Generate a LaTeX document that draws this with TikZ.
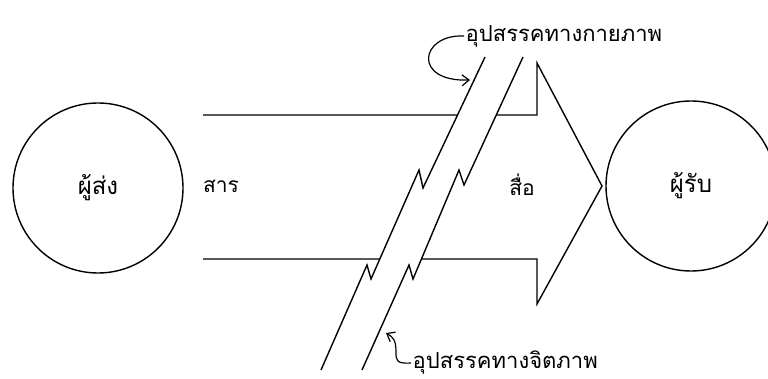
\documentclass[tikz,border=0pt]{standalone}
\usepackage{fontspec}
\newfontfamily\thaifont[Script=Thai]{Loma}
\usetikzlibrary{arrows.meta}
\usetikzlibrary{positioning}

\begin{document}
\begin{tikzpicture}[x=1pt, y=-1pt, line width=1.4pt,
  >={Straight Barb[length=7pt,width=11pt]},
  party/.style={circle, draw, minimum size=170pt, inner sep=0pt,
    font=\thaifont\fontsize{24}{28}\selectfont},
  word/.style={inner sep=1pt, font=\thaifont\fontsize{21}{24}\selectfont},
  noise/.style={word, anchor=west, font=\thaifont\fontsize{22}{26}\selectfont}]

\useasboundingbox (0,0) rectangle (768,379);

%---------------------------------------
% Message arrow (open at the left)
%---------------------------------------
\def\Xl{203}   % left end
\def\Xh{537}   % start of the head
\def\Yt{115}   % upper edge
\def\Yb{259}   % lower edge

\draw[line join=miter]
  (\Xl,\Yt) -- (\Xh,\Yt) -- (\Xh,63) -- (602,186)
  -- (\Xh,304) -- (\Xh,\Yb) -- (\Xl,\Yb);

%---------------------------------------
% Noise band (two broken strokes)
%---------------------------------------
\fill[white]
  (485,57) -- (423,188) -- (419,170) -- (371,279) -- (367,265) -- (321,370)
  -- (362,370) -- (409,265) -- (413,279) -- (459,170) -- (464,185) -- (523,57)
  -- cycle;

\draw[line join=miter]
  (485,57) -- (423,188) -- (419,170) -- (371,279) -- (367,265) -- (321,370);
\draw[line join=miter]
  (523,57) -- (464,185) -- (459,170) -- (413,279) -- (409,265) -- (362,370);

%---------------------------------------
% Sender and receiver
%---------------------------------------
\node[party] (sender)   at (98,188)  {ผู้ส่ง};
\node[party] (receiver) at (691,186) {ผู้รับ};

% Labels
\node[word] (message) at (221,186) {สาร};
\node[word] (channel) at (522,185) {สื่อ};

%---------------------------------------
% Noise labels and their hooks
%---------------------------------------
\node[noise] (noisephys)   at (464,36)  {อุปสรรคทางกายภาพ};
\node[noise] (noisepsych)  at (411,363) {อุปสรรคทางจิตภาพ};

\coordinate (physhit)  at (470,80);
\coordinate (psychhit) at (386,333);

\draw[->, line width=1.2pt] (noisephys.west)
  .. controls (420,34) and (412,82) .. (physhit);
\draw[->, line width=1.2pt] (noisepsych.west)
  .. controls (396,364) and (396,360) .. (396,352)
  .. controls (396,340) and (393,337) .. (psychhit);

\end{tikzpicture}
\end{document}
